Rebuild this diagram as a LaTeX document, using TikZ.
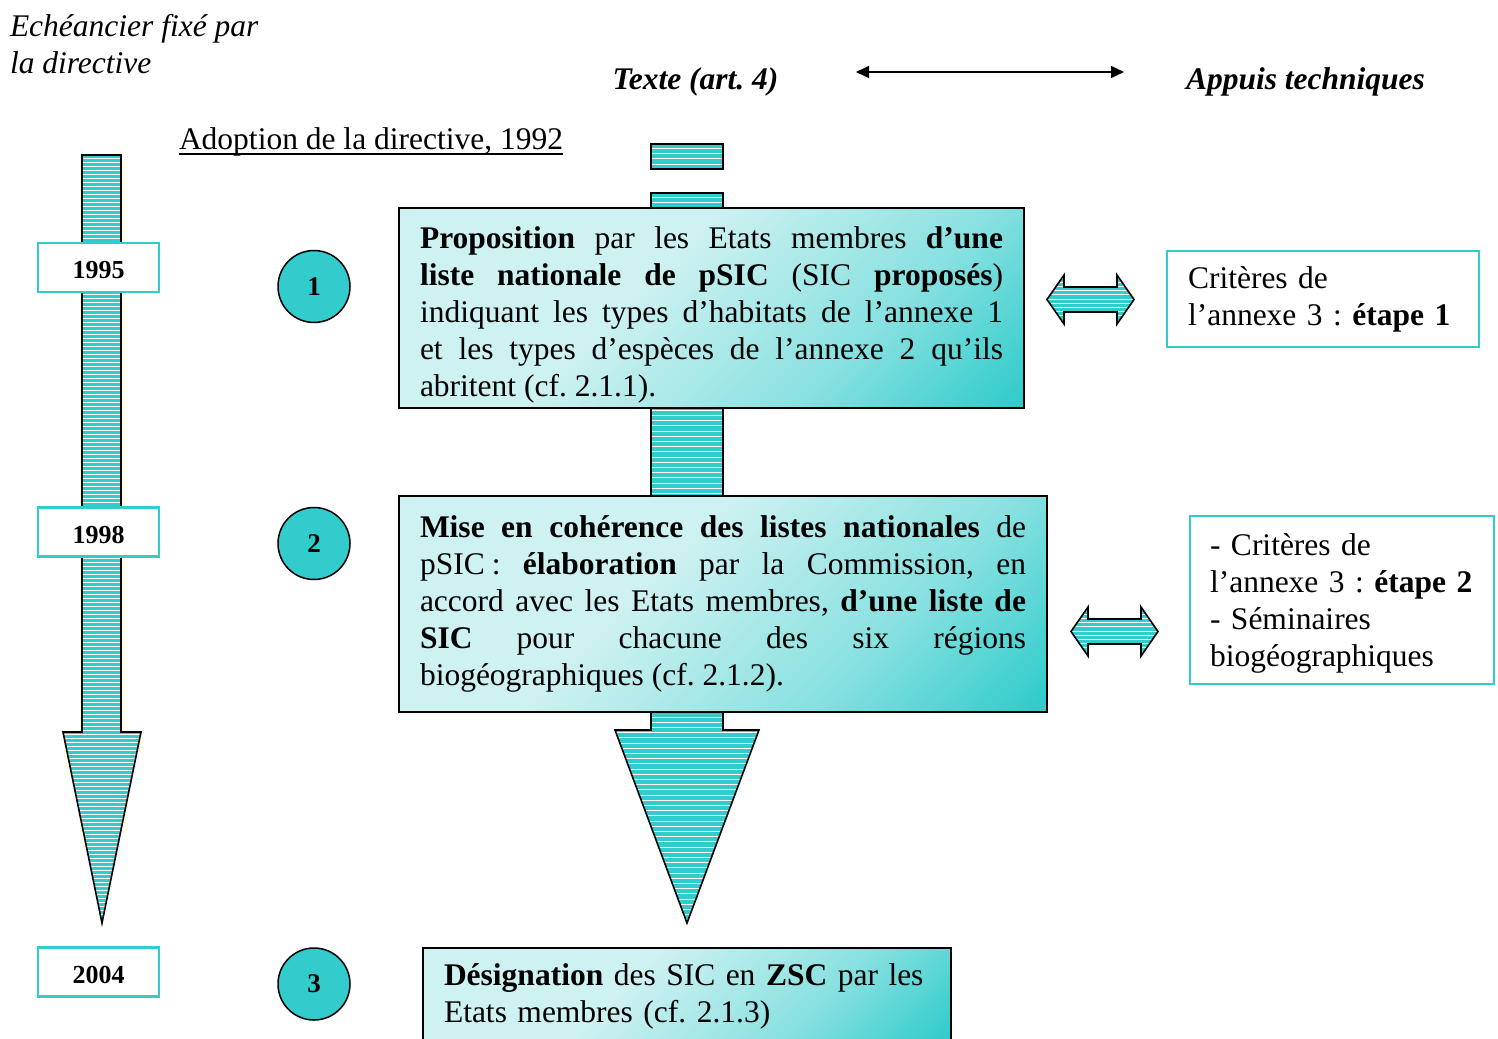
\documentclass[tikz,border=0pt]{standalone}
\usepackage{fontspec}
\setmainfont{Liberation Serif}
\usetikzlibrary{arrows.meta}
\frenchspacing

\definecolor{tealc}{RGB}{51,204,204}
\definecolor{lightc}{RGB}{206,241,241}
\colorlet{midc}{tealc!45!lightc}

% diagonal fill of the text boxes: pale cyan, deepening to teal in one corner
\pgfdeclareverticalshading{boxfade}{100bp}{color(0bp)=(tealc); color(16bp)=(tealc); color(34bp)=(midc); color(58bp)=(lightc); color(100bp)=(lightc)}

\newcommand\bodysize{\fontsize{31.5}{37}\selectfont}

% teal shape ruled with thin white horizontal lines, black outline
% #1 path, #2 first line y, #3 last line y, #4 line spacing
\newcommand\hatched[4]{%
  \fill[tealc] #1;
  \begin{scope}
    \clip #1;
    \pgfmathsetmacro\hnext{#2+#4}
    \foreach \hy in {#2,\hnext,...,#3}
      \draw[hatchline] (0,\hy) -- (1498,\hy);
  \end{scope}
  \draw[outline] #1;
}

\begin{document}
\begin{tikzpicture}[x=1pt,y=-1pt,
  every node/.style={inner sep=0pt, outer sep=0pt, font=\bodysize},
  hatchline/.style={white, line width=1pt},
  outline/.style={black, line width=1.6pt, line join=miter},
  yearbox/.style={draw=tealc, line width=2.5pt, fill=white, minimum width=121pt,
    minimum height=49pt, text height=22pt, text depth=0pt,
    font=\fontsize{26}{30}\selectfont\bfseries},
  stepdot/.style={circle, draw=black, line width=1.5pt, fill=tealc, minimum size=72pt,
    font=\fontsize{27}{30}\selectfont\bfseries},
  mainbox/.style={draw=black, line width=2pt, shade, shading=boxfade, shading angle=45,
    align=justify, inner xsep=21pt, anchor=north west},
  sidebox/.style={draw=tealc, line width=2.5pt, fill=white, align=left,
    inner xsep=21pt, anchor=north west},
  twoway/.style={line width=1.5pt, {Triangle[length=13pt,width=12pt]}-{Triangle[length=13pt,width=12pt]}},
]
\useasboundingbox (0,0) rectangle (1498,1038);
\clip (0,0) rectangle (1498,1038);

% headings
\node[anchor=north west, align=left, font=\bodysize\itshape] (eche) at (10,14)
  {Echéancier fixé par\\la directive};
\node[anchor=base, font=\bodysize\bfseries\itshape] (texte) at (695.5,90) {Texte (art.~4)};
\node[anchor=base west, font=\bodysize\bfseries\itshape] (appuis) at (1186,90) {Appuis techniques};
\coordinate (la) at (856,72);
\coordinate (ra) at (1124,72);
\draw[twoway] (la) -- (ra);

\node[anchor=base west] (adopt) at (179,149) {Adoption de la directive, 1992};
\draw[line width=1.4pt] ([yshift=-5pt]adopt.base west) -- ([yshift=-5pt]adopt.base east);

% time line on the left
\hatched{(82,155) -- (121,155) -- (121,732) -- (141,732) -- (102,923) -- (63,732) -- (82,732) -- cycle}{158}{923}{4}
\node[yearbox] (y1995) at (98.5,267.5) {1995};
\node[yearbox] (y1998) at (98.5,532) {1998};
\node[yearbox] (y2004) at (98.5,972) {2004};

% step numbers
\node[stepdot] (s1) at (314,286.5) {1};
\node[stepdot] (s2) at (314,543.5) {2};
\node[stepdot] (s3) at (314,984) {3};

% central arrow
\hatched{(651,144) -- (723,144) -- (723,169) -- (651,169) -- cycle}{148.5}{167}{5.2}
\hatched{(651,193) -- (723,193) -- (723,730) -- (759,730) -- (687,923) -- (615,730) -- (651,730) -- cycle}{197}{923}{5.2}

% text of the directive
\node[mainbox, text width=583pt, minimum height=200pt] (prop) at (399,208)
  {\rule{0pt}{36pt}\textbf{Proposition} par les Etats membres \textbf{d’une}\linebreak
   \textbf{liste nationale de pSIC} (SIC \textbf{proposés})\linebreak
   indiquant les types d’habitats de l’annexe 1\linebreak
   et les types d’espèces de l’annexe 2 qu’ils\linebreak
   abritent (cf. 2.1.1).};
\node[mainbox, text width=606pt, minimum height=216pt] (coher) at (399,496)
  {\textbf{Mise en cohérence des listes nationales} de\linebreak
   pSIC\kern7pt: \textbf{élaboration} par la Commission, en\linebreak
   accord avec les Etats membres, \textbf{d’une liste de}\linebreak
   \textbf{SIC} pour chacune des six régions\linebreak
   biogéographiques (cf. 2.1.2).};
\node[mainbox, align=left, text width=486pt, minimum height=96pt] (desig) at (423,948)
  {\textbf{Désignation} des SIC en \textbf{ZSC} par les\\
   Etats membres (cf. 2.1.3)};

% technical support
\hatched{(1047,299.5) -- (1064,275) -- (1064,287) -- (1117,287) -- (1117,275) -- (1134,299.5) -- (1117,324) -- (1117,312) -- (1064,312) -- (1064,324) -- cycle}{278}{323}{4.2}
\hatched{(1071,631.5) -- (1088,607) -- (1088,619) -- (1141,619) -- (1141,607) -- (1158,631.5) -- (1141,656) -- (1141,644) -- (1088,644) -- (1088,656) -- cycle}{610}{655}{4.2}

\node[sidebox, text width=270pt, minimum height=96pt] (crit1) at (1167,251)
  {Critères de\\l’annexe 3 : \textbf{étape 1}};
\node[sidebox, text width=264pt, inner xsep=20pt, minimum height=168pt] (crit2) at (1190,516)
  {\rule{0pt}{28pt}- Critères de\\l’annexe 3 : \textbf{étape 2}\\- Séminaires\\biogéographiques};
\end{tikzpicture}
\end{document}
